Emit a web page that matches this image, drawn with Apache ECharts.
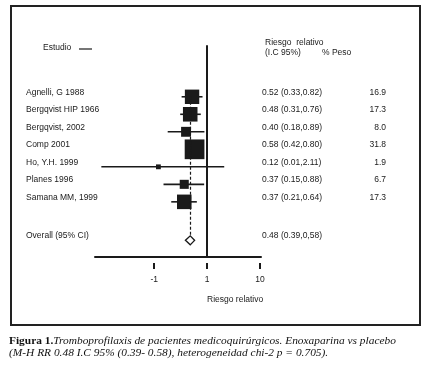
<!DOCTYPE html>
<html>
<head>
<meta charset="utf-8">
<script src="https://cdn.jsdelivr.net/npm/echarts@6/dist/echarts.min.js"></script>
<style>
  html, body { margin: 0; padding: 0; background: #fff; }
  #chart { width: 436px; height: 379px; }
</style>
</head>
<body>
<div id="chart"></div>
<script>
const studies = ['Agnelli, G 1988', 'Bergqvist HIP 1966', 'Bergqvist, 2002', 'Comp 2001', 'Ho, Y.H. 1999', 'Planes 1996', 'Samana MM, 1999']
const rr = [0.52, 0.48, 0.40, 0.58, 0.12, 0.37, 0.37]
const ciLow = [0.33, 0.31, 0.18, 0.42, 0.01, 0.15, 0.21]
const ciHigh = [0.82, 0.76, 0.89, 0.80, 2.11, 0.88, 0.64]
const weights = [16.9, 17.3, 8.0, 31.8, 1.9, 6.7, 17.3]
const rowPos = [0, 1, 2, 3, 4, 5, 6]

const overallLabel = 'Overall (95% CI)'
const overallRR = 0.48
const overallLow = 0.39
const overallHigh = 0.58
const overallText = '0.48 (0.39,0,58)'
const overallRow = 8.2

const tickValues = [0.1, 1, 10]
const tickLabels = ['-1', '1', '10']

const lg = v => Math.round(Math.log10(v) * 1e6) / 1e6
const tickLog = tickValues.map(lg)
const allRows = rowPos.concat([overallRow])
const allNames = studies.concat([overallLabel])
const ciText = studies.map((_, i) => `${rr[i].toFixed(2)} (${ciLow[i].toFixed(2)},${ciHigh[i].toFixed(2)})`).concat([overallText])
const findIdx = (arr, v) => arr.findIndex(a => Math.abs(a - v) < 1e-6)

const ink = '#1a1a1a'
const sans = 'Liberation Sans'
const fs = 8.5

const chart = echarts.init(document.getElementById('chart'))

const labelAxis = (position, align, margin, values, texts) => ({
  type: 'value',
  inverse: true,
  min: -2.9,
  max: 9.15,
  position: position,
  axisLine: { show: false, onZero: false },
  axisTick: { show: false },
  splitLine: { show: false },
  axisLabel: {
    customValues: values,
    formatter: v => texts[findIdx(values, v)],
    align: align,
    margin: margin,
    verticalAlign: 'bottom',
    lineHeight: 9,
    fontSize: fs,
    fontFamily: sans,
    color: ink
  }
})

chart.setOption({
  animation: false,
  backgroundColor: '#fff',
  grid: { left: 95, right: 175, top: 46, bottom: 122, containLabel: false },
  xAxis: [
    {
      type: 'value',
      min: -2.12,
      max: 1.02,
      axisLine: { onZero: false, lineStyle: { color: ink, width: 2 } },
      axisTick: { show: false },
      axisLabel: { show: false },
      splitLine: { show: false }
    },
    {
      type: 'value',
      min: -2.12,
      max: 1.02,
      position: 'bottom',
      offset: 6,
      axisLine: { show: false, onZero: false },
      axisTick: { customValues: tickLog, length: 6, lineStyle: { color: ink, width: 2 } },
      axisLabel: {
        customValues: tickLog,
        formatter: v => tickLabels[findIdx(tickLog, v)],
        margin: 12,
        fontSize: fs,
        fontFamily: sans,
        color: ink
      },
      splitLine: { show: false }
    }
  ],
  yAxis: [
    {
      type: 'value',
      inverse: true,
      min: -2.9,
      max: 9.15,
      axisLine: { show: true, onZero: true, lineStyle: { color: ink, width: 2 } },
      axisTick: { show: false },
      axisLabel: { show: false },
      splitLine: { show: false }
    },
    labelAxis('left', 'left', 69, allRows, allNames),
    labelAxis('right', 'left', 1, allRows, ciText),
    labelAxis('right', 'right', 125, rowPos, weights.map(w => w.toFixed(1)))
  ],
  series: [
    {
      type: 'custom',
      z: 2,
      data: studies.map((_, i) => [lg(ciLow[i]), lg(ciHigh[i]), rowPos[i]]),
      encode: { x: [0, 1], y: 2 },
      renderItem: (params, api) => {
        const a = api.coord([api.value(0), api.value(2)])
        const b = api.coord([api.value(1), api.value(2)])
        return {
          type: 'line',
          shape: { x1: a[0], y1: a[1], x2: b[0], y2: b[1] },
          style: { stroke: ink, lineWidth: 1.6 }
        }
      },
      markLine: {
        silent: true,
        symbol: 'none',
        label: { show: false },
        lineStyle: { color: ink, width: 1.2, type: [3, 2], opacity: 1 },
        data: [[{ coord: [lg(overallRR), rowPos[0]] }, { coord: [lg(overallRR), overallRow - 0.25] }]]
      }
    },
    {
      type: 'scatter',
      z: 3,
      symbol: 'rect',
      symbolSize: v => 3.5 * Math.sqrt(v[2]),
      itemStyle: { color: ink, opacity: 1 },
      data: studies.map((_, i) => [lg(rr[i]), rowPos[i], weights[i]])
    },
    {
      type: 'custom',
      z: 4,
      data: [[lg(overallLow), lg(overallHigh), lg(overallRR), overallRow]],
      encode: { x: [0, 1, 2], y: 3 },
      renderItem: (params, api) => {
        const lo = api.coord([api.value(0), api.value(3)])
        const hi = api.coord([api.value(1), api.value(3)])
        const mid = api.coord([api.value(2), api.value(3)])
        const h = 4.5
        return {
          type: 'polygon',
          shape: { points: [[lo[0], lo[1]], [mid[0], mid[1] - h], [hi[0], hi[1]], [mid[0], mid[1] + h]] },
          style: { fill: '#fff', stroke: ink, lineWidth: 1.4 }
        }
      }
    }
  ],
  graphic: [
    {
      type: 'rect',
      shape: { x: 11, y: 6, width: 409, height: 319 },
      style: { fill: 'none', stroke: '#222', lineWidth: 2 }
    },
    {
      type: 'text', x: 43, y: 48,
      style: { text: 'Estudio', font: `${fs}px ${sans}`, fill: ink, verticalAlign: 'middle' }
    },
    {
      type: 'line',
      shape: { x1: 79, y1: 49, x2: 92, y2: 49 },
      style: { stroke: ink, lineWidth: 1.2 }
    },
    {
      type: 'text', x: 265, y: 43,
      style: { text: 'Riesgo  relativo', font: `${fs}px ${sans}`, fill: ink, verticalAlign: 'middle' }
    },
    {
      type: 'text', x: 265, y: 53,
      style: { text: '(I.C 95%)', font: `${fs}px ${sans}`, fill: ink, verticalAlign: 'middle' }
    },
    {
      type: 'text', x: 322, y: 53,
      style: { text: '% Peso', font: `${fs}px ${sans}`, fill: ink, verticalAlign: 'middle' }
    },
    {
      type: 'text', x: 207, y: 300,
      style: { text: 'Riesgo relativo', font: `${fs}px ${sans}`, fill: ink, verticalAlign: 'middle' }
    },
    {
      type: 'text', x: 9, y: 335,
      style: {
        text: '{b|Figura 1.}{i|Tromboprofilaxis de pacientes medicoquirúrgicos. Enoxaparina vs placebo}\n{i|(M-H RR 0.48 I.C 95% (0.39- 0.58), heterogeneidad chi-2 p = 0.705).}',
        fill: '#111',
        rich: {
          b: { fontFamily: 'Liberation Serif', fontWeight: 'bold', fontSize: 11.4, lineHeight: 12 },
          i: { fontFamily: 'Liberation Serif', fontStyle: 'italic', fontSize: 11.4, lineHeight: 12 }
        }
      }
    }
  ]
})
</script>
</body>
</html>
